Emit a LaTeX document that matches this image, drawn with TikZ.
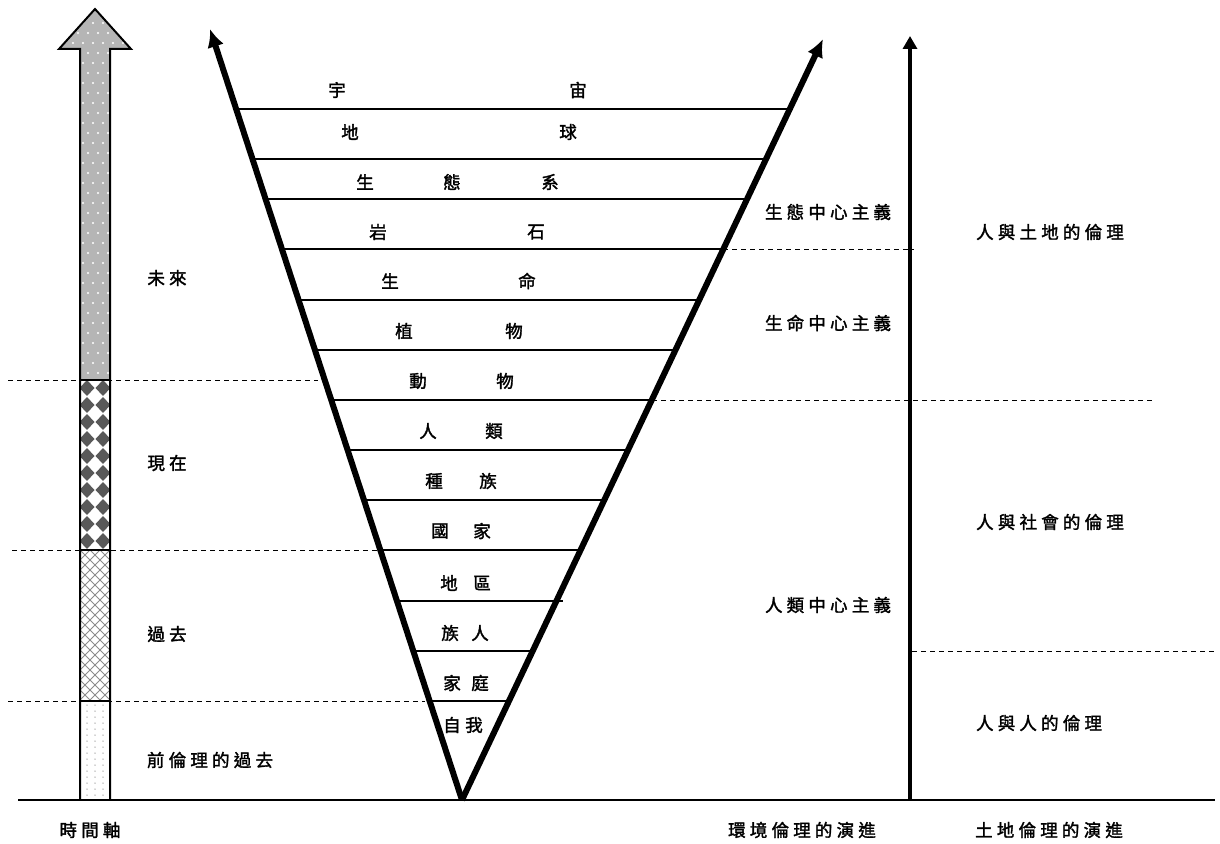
\documentclass[tikz,border=0pt]{standalone}
\usepackage{fontspec}
\newfontfamily\cjk[FakeBold=1.8]{Noto Sans CJK TC}
\usetikzlibrary{arrows.meta}
\newcommand\mychar[4]{\node[lbl] (#1) at (#2,#3) {#4};}
\begin{document}
\begin{tikzpicture}[x=1pt,y=-1pt,
  lbl/.style={font=\cjk\fontsize{17.5}{19}\selectfont, inner sep=0pt, text=black},
  slbl/.style={inner sep=0pt, text=black, font=\cjk\fontsize{17.5}{19}\selectfont\addfontfeature{LetterSpace=24}},
  rung/.style={line width=1.4pt, black},
  arm/.style={line width=6pt, black, -{Latex[length=18pt,width=17pt]}},
  dashline/.style={line width=0.9pt, black, dash pattern=on 5pt off 4pt},
  outline/.style={line width=2pt, black, line join=miter}]
\useasboundingbox (0,0) rectangle (1220,843);

% ---------- time axis arrow ----------
% future section + head
\fill[gray!58] (80,380) -- (80,49) -- (59,49) -- (95,9) -- (131,49) -- (110,49) -- (110,380) -- cycle;
\begin{scope}
  \clip (80,380) -- (80,49) -- (59,49) -- (95,9) -- (131,49) -- (110,49) -- (110,380) -- cycle;
  \foreach \i in {0,...,37} \foreach \j in {0,...,7} {
    \fill[white] ({58+10*\j+5*mod(\i,2)}, {13+10*\i}) circle (1.2);
  }
\end{scope}
% present section: rotated checkerboard
\begin{scope}
  \clip (80,380) rectangle (110,550);
  \foreach \r in {0,...,10} \foreach \c in {-1,0,1,2} {
    \fill[black!65] ({87+16*\c-7.5}, {388+17*\r}) -- ++(7.5,-8) -- ++(7.5,8) -- ++(-7.5,8) -- cycle;
  }
\end{scope}
% past section: crosshatch
\begin{scope}
  \clip (80,550) rectangle (110,701);
  \foreach \k in {-17,...,27} {
    \draw[gray!90, line width=0.8pt] ({80+10*\k}, 550) -- ++(160,160);
    \draw[gray!90, line width=0.8pt] ({80+10*\k}, 550) -- ++(-160,160);
  }
\end{scope}
% pre-ethical past: dots
\foreach \r in {0,...,15} \foreach \cx in {87,95,103} {
  \fill[gray!70] (\cx, {705+6*\r}) circle (0.75);
}
\draw[outline] (80,800) -- (80,49) -- (59,49) -- (95,9) -- (131,49) -- (110,49) -- (110,800);
\draw[line width=1.6pt] (80,380) -- (110,380);
\draw[line width=1.6pt] (80,550) -- (110,550);
\draw[line width=1.6pt] (80,701) -- (110,701);

% ---------- dashed separators ----------
\draw[dashline] (8,380) -- (318,380);
\draw[dashline] (12,550) -- (384,550);
\draw[dashline] (8,701) -- (425,701);
\draw[dashline] (723,249) -- (914,249);
\draw[dashline] (652,400) -- (1155,400);
\draw[dashline] (912,651) -- (1215,651);

% ---------- V shape ----------
\coordinate (apex) at (462,800);
\coordinate (ltip) at (210,29);
\coordinate (rtip) at (823,39);
\foreach \y in {109,159,199,249,300,350,400,450,500,550,651,701} {
  \draw[rung] ({462-(800-\y)*0.3268}, \y) -- ({462+(800-\y)*0.4744}, \y);
}
\draw[rung] ({462-(800-601)*0.3268}, 601) -- (563,601);
\draw[arm] (apex) -- (ltip);
\draw[arm] (apex) -- (rtip);

% ---------- vertical arrow and baseline ----------
\coordinate (vbot) at (910,800);
\coordinate (vtop) at (910,36);
\draw[line width=4pt, -{Triangle[length=13pt,width=14pt]}] (vbot) -- (vtop);
\coordinate (bl) at (18,800);
\coordinate (br) at (1215,800);
\draw[line width=1.4pt] (bl) -- (br);

% ---------- V labels ----------
\mychar{a1}{337}{90}{宇}\mychar{a2}{578}{90}{宙}
\mychar{b1}{350}{132}{地}\mychar{b2}{568}{132}{球}
\mychar{c1}{365}{182}{生}\mychar{c2}{452}{182}{態}\mychar{c3}{550}{182}{系}
\mychar{d1}{378}{232}{岩}\mychar{d2}{536}{232}{石}
\mychar{e1}{390}{281}{生}\mychar{e2}{527}{281}{命}
\mychar{f1}{404}{331}{植}\mychar{f2}{514}{331}{物}
\mychar{g1}{418}{381}{動}\mychar{g2}{505}{381}{物}
\mychar{h1}{428}{431}{人}\mychar{h2}{494}{431}{類}
\mychar{i1}{434}{481}{種}\mychar{i2}{488}{481}{族}
\mychar{j1}{440}{531}{國}\mychar{j2}{482}{531}{家}
\mychar{k1}{449}{583}{地}\mychar{k2}{482}{583}{區}
\mychar{l1}{450}{633}{族}\mychar{l2}{480}{633}{人}
\mychar{m1}{452}{683}{家}\mychar{m2}{480}{683}{庭}
\mychar{n1}{452}{725}{自}\mychar{n2}{474}{725}{我}

% ---------- side labels ----------
\node[slbl] (future) at (167,278) {未來};
\node[slbl] (present) at (167,463) {現在};
\node[slbl] (past) at (167,634) {過去};
\node[slbl] (prepast) at (210,760) {前倫理的過去};
\node[slbl] (taxis) at (90,830) {時間軸};
\node[slbl] (eco) at (828,212) {生態中心主義};
\node[slbl] (bio) at (828,323) {生命中心主義};
\node[slbl] (anth) at (828,605) {人類中心主義};
\node[slbl] (land) at (1050,232) {人與土地的倫理};
\node[slbl] (soc) at (1050,522) {人與社會的倫理};
\node[slbl] (pp) at (1039,723) {人與人的倫理};
\node[slbl] (envev) at (802,830) {環境倫理的演進};
\node[slbl] (landev) at (1049,830) {土地倫理的演進};
\end{tikzpicture}
\end{document}
